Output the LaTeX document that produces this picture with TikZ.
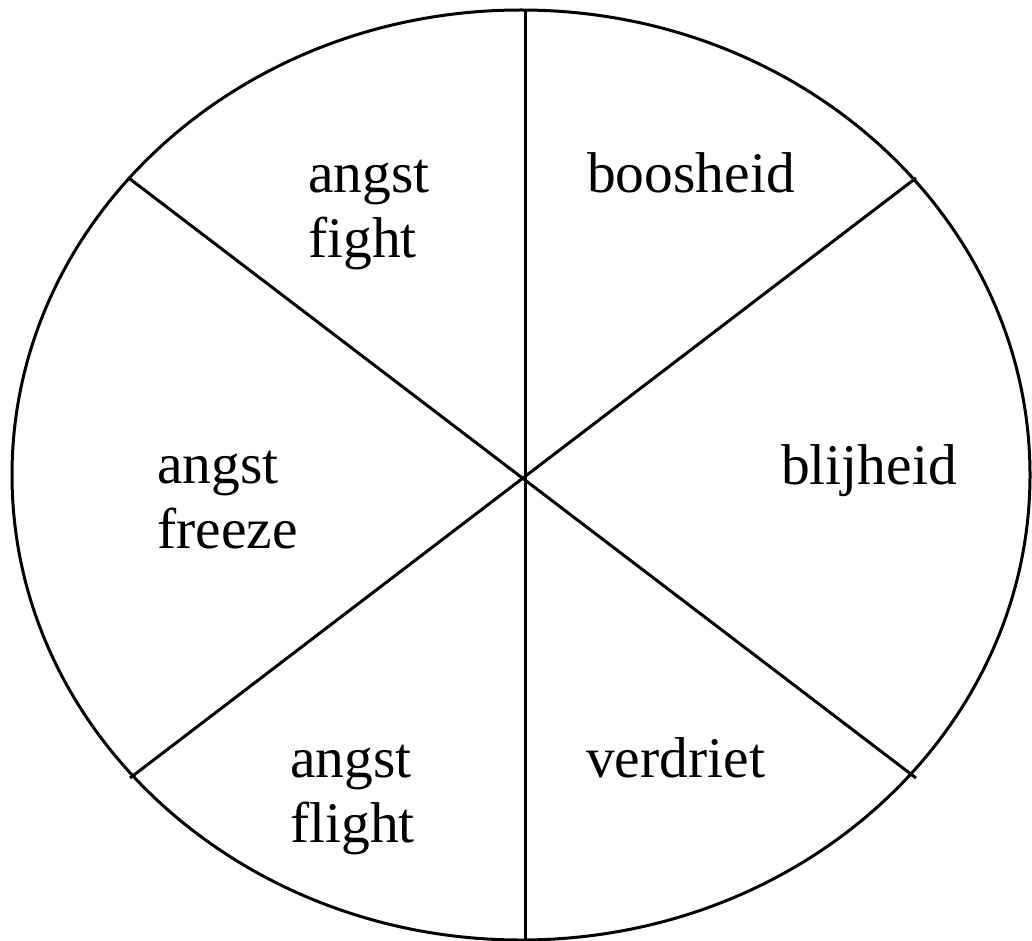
\documentclass[tikz,border=0pt]{standalone}
\usepackage{fontspec}
\setmainfont{Liberation Serif}
\begin{document}
\begin{tikzpicture}[x=1pt,y=-1pt,
  outline/.style={line width=3pt,black},
  lbl/.style={anchor=base west,inner sep=0pt,font=\fontsize{57.5}{65}\selectfont}]
\useasboundingbox (0,0) rectangle (1032,941);
\draw[outline] (521,475) ellipse [x radius=509, y radius=465];
\coordinate (top) at (525,9);
\coordinate (bot) at (525,940);
\coordinate (ul) at (130,179);
\coordinate (lr) at (916,778);
\coordinate (ur) at (916,178);
\coordinate (ll) at (130,778);
\draw[outline] (top) -- (bot);
\draw[outline] (ul) -- (lr);
\draw[outline] (ur) -- (ll);
\node[lbl] (a1) at (308,193) {angst};
\node[lbl] (fight) at (308,258) {fight};
\node[lbl] (boos) at (587,193) {boosheid};
\node[lbl] (a2) at (157,483) {angst};
\node[lbl] (freeze) at (157,548) {freeze};
\node[lbl] (blij) at (781,484) {blijheid};
\node[lbl] (a3) at (290,777) {angst};
\node[lbl] (flight) at (290,842) {flight};
\node[lbl] (verd) at (586,777) {verdriet};
\end{tikzpicture}
\end{document}
